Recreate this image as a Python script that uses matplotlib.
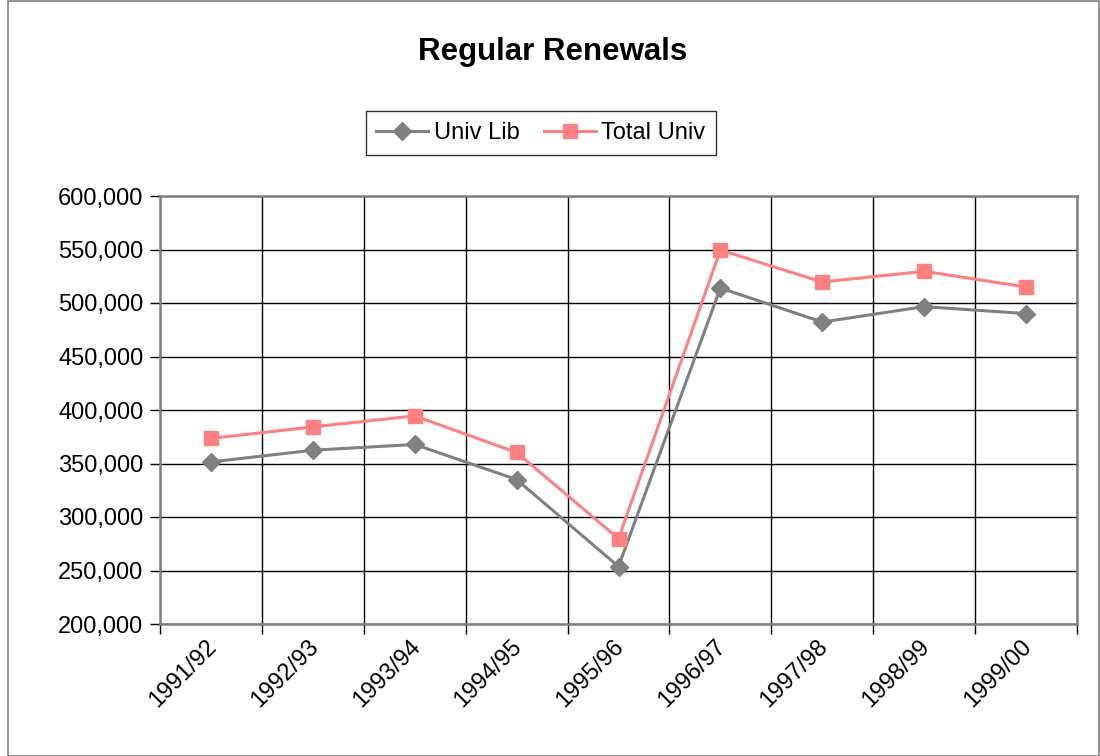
import numpy as np
import matplotlib.pyplot as plt
from matplotlib.patches import Rectangle
from matplotlib.transforms import ScaledTranslation
from matplotlib.ticker import FuncFormatter, MultipleLocator

# Données
annees = ["1991/92", "1992/93", "1993/94", "1994/95", "1995/96",
          "1996/97", "1997/98", "1998/99", "1999/00"]
univ_lib = [351500, 362400, 367800, 335000, 253700, 514000, 482200, 496600, 490100]
total_univ = [373400, 384200, 394500, 360300, 279800, 549500, 519600, 529600, 515000]


def trace_renouvellements(output_image_path):
    plt.rcParams['font.family'] = ['Liberation Sans', 'DejaVu Sans']

    fig = plt.figure(figsize=(11, 7.56), dpi=100)
    ax = fig.add_axes([160 / 1100, 1 - 624 / 756, 917 / 1100, 428 / 756])

    # Cadre autour du graphique
    fig.patches.append(Rectangle((8 / 1100, 0.5 / 756), 1091 / 1100, 755 / 756,
                                 transform=fig.transFigure, fill=False,
                                 edgecolor='#808080', linewidth=1.2))

    x = np.arange(len(annees))
    ax.plot(x, univ_lib, color='#808080', linewidth=2.2, marker='D',
            markersize=9, label='Univ Lib', zorder=3)
    ax.plot(x, total_univ, color='#FF8080', linewidth=2.2, marker='s',
            markersize=10, label='Total Univ', zorder=3)

    ax.set_xlim(-0.5, len(annees) - 0.5)
    ax.set_ylim(200000, 600000)

    ax.yaxis.set_major_locator(MultipleLocator(50000))
    ax.yaxis.set_major_formatter(FuncFormatter(lambda v, p: f"{int(v):,}"))
    ax.tick_params(axis='y', direction='out', length=7, width=1, labelsize=17, pad=5)

    ax.set_xticks(x)
    ax.set_xticklabels(annees, rotation=45, ha='right', va='top', fontsize=17)
    ax.set_xticks(np.arange(len(annees) + 1) - 0.5, minor=True)
    ax.tick_params(axis='x', which='major', length=0, pad=12)
    ax.tick_params(axis='x', which='minor', direction='out', length=7, width=1)
    decalage = ScaledTranslation(10 / 100, 5 / 100, fig.dpi_scale_trans)
    for lab in ax.get_xticklabels():
        lab.set_transform(lab.get_transform() + decalage)

    ax.grid(axis='y', which='major', color='black', linewidth=1)
    ax.grid(axis='x', which='minor', color='black', linewidth=1)
    ax.set_axisbelow(True)

    for s in ax.spines.values():
        s.set_color('#808080')
        s.set_linewidth(1.8)

    fig.text(553 / 1100, 1 - 52 / 756, "Regular Renewals", ha='center', va='center',
             fontsize=22.5, fontweight='bold')

    leg = fig.legend(loc='center', bbox_to_anchor=(541 / 1100, 1 - 133 / 756),
                     ncol=2, fontsize=17, frameon=True, fancybox=False,
                     edgecolor='black', handlelength=2.2, handletextpad=0.25,
                     columnspacing=1.0, borderpad=0.45, borderaxespad=0)
    leg.get_frame().set_linewidth(1)

    fig.savefig(output_image_path, dpi=100)
    plt.close(fig)
    return output_image_path


if __name__ == "__main__":
    trace_renouvellements("out.png")
